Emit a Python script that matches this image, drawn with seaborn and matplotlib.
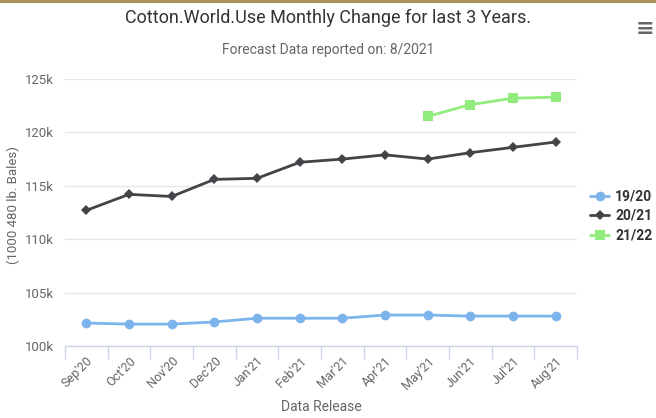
import numpy as np
import pandas as pd
import matplotlib
matplotlib.use("Agg")
import matplotlib.pyplot as plt
import seaborn as sns

# Data (thousand 480 lb. bales)
months = ["Sep'20", "Oct'20", "Nov'20", "Dec'20", "Jan'21", "Feb'21",
          "Mar'21", "Apr'21", "May'21", "Jun'21", "Jul'21", "Aug'21"]
use_1920 = [102.15, 102.05, 102.05, 102.25, 102.6, 102.6,
            102.6, 102.9, 102.9, 102.8, 102.8, 102.8]
use_2021 = [112.7, 114.2, 114.0, 115.6, 115.7, 117.2,
            117.5, 117.9, 117.5, 118.1, 118.6, 119.1]
use_2122 = [np.nan] * 8 + [121.5, 122.6, 123.2, 123.3]
y_ticks = [100, 105, 110, 115, 120, 125]

series = {"19/20": use_1920, "20/21": use_2021, "21/22": use_2122}
colors = {"19/20": "#7cb5ec", "20/21": "#434348", "21/22": "#90ed7d"}
markers = {"19/20": "o", "20/21": "D", "21/22": "s"}
msize = {"19/20": 7, "20/21": 5.5, "21/22": 7}

df = pd.DataFrame({"pos": list(range(len(months))) * 3,
                   "season": [s for s in series for _ in months],
                   "value": [v for s in series for v in series[s]]})

sns.set_style("white")
plt.rcParams['font.family'] = ['Roboto', 'DejaVu Sans']

fig = plt.figure(figsize=(6.56, 4.18), dpi=100)
ax = fig.add_axes([65 / 656, 1 - 346 / 418, 512 / 656, (346 - 79) / 418])

for s in series:
    sub = df[df["season"] == s]
    sns.lineplot(data=sub, x="pos", y="value", ax=ax, color=colors[s],
                 marker=markers[s], markersize=msize[s], markeredgewidth=0,
                 linewidth=2, label=s)

ax.set_xlim(-0.5, len(months) - 0.5)
ax.set_ylim(100, 125)
ax.set_yticks(y_ticks)
ax.set_yticklabels([f"{t}k" for t in y_ticks], color="#666666", fontsize=9.5)
ax.yaxis.grid(True, color="#e6e6e6", linewidth=1)
ax.tick_params(axis="y", left=True, length=0, pad=8)

ax.set_xticks(range(len(months)))
ax.set_xticklabels(months, rotation=45, ha="right", rotation_mode="anchor",
                   color="#666666", fontsize=9)
ax.tick_params(axis="x", which="major", length=0, pad=6)
ax.set_xticks(np.arange(-0.5, len(months)), minor=True)
ax.tick_params(axis="x", which="minor", bottom=True, length=9,
               color="#ccd6eb", width=1)

for side in ["top", "right", "left"]:
    ax.spines[side].set_visible(False)
ax.spines["bottom"].set_color("#ccd6eb")
ax.spines["bottom"].set_linewidth(1)

ax.set_xlabel("Data Release", color="#666666", fontsize=10, labelpad=6)
ax.set_ylabel("")
fig.text(13 / 656, 1 - 205 / 418, "(1000 480 lb. Bales)", rotation=90,
         ha="center", va="center", color="#666666", fontsize=9.5)

leg = ax.legend(loc="center left", bbox_to_anchor=(590 / 656, 1 - 216 / 418),
                bbox_transform=fig.transFigure, frameon=False,
                fontsize=10, handlelength=1.4, labelspacing=0.4,
                handletextpad=0.4, borderaxespad=0, borderpad=0)
for t in leg.get_texts():
    t.set_color("#333333")
    t.set_fontweight("bold")

fig.text(0.5, 1 - 18 / 418, "Cotton.World.Use Monthly Change for last 3 Years.",
         ha="center", va="center", fontsize=13, color="#333333")
fig.text(0.5, 1 - 50 / 418, "Forecast Data reported on: 8/2021",
         ha="center", va="center", fontsize=10, color="#666666")
fig.text(645 / 656, 1 - 29 / 418, "\u2261", ha="center", va="center",
         fontsize=16, color="#666666", fontweight="bold",
         family=['DejaVu Sans'])
fig.add_artist(plt.Line2D([0, 1], [1 - 1 / 418, 1 - 1 / 418],
                          color="#a8925a", linewidth=3, transform=fig.transFigure))

fig.savefig("out.png", dpi=100)
